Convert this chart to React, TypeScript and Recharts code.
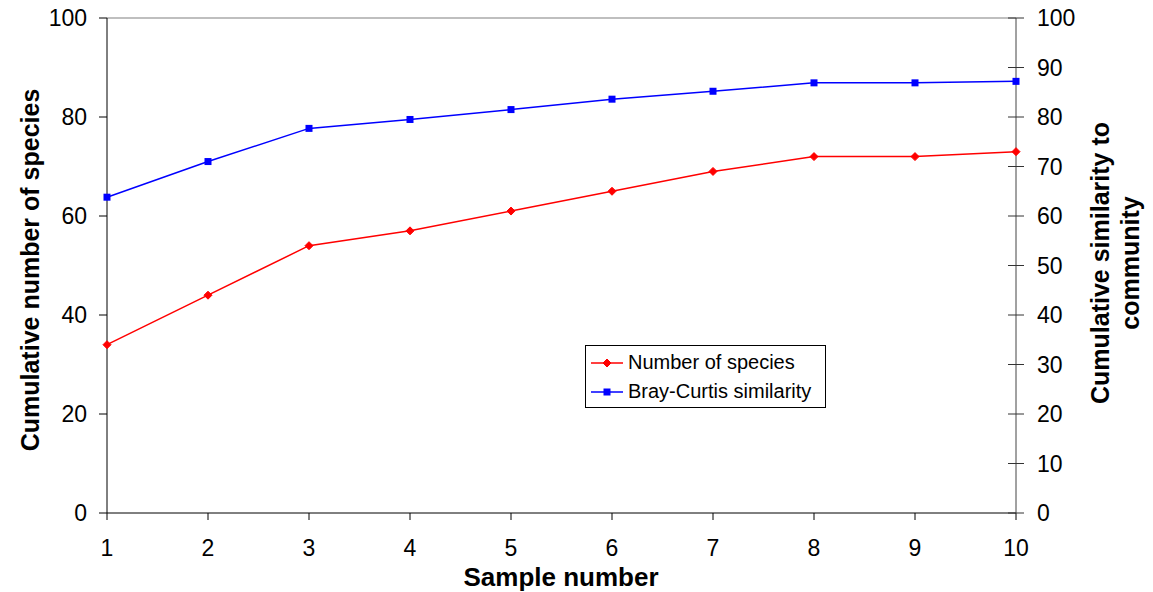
import React from 'react'
import {
  LineChart,
  Line,
  XAxis,
  YAxis,
  ReferenceLine,
} from 'recharts'

const SAMPLES = [1, 2, 3, 4, 5, 6, 7, 8, 9, 10]
const SPECIES = [34, 44, 54, 57, 61, 65, 69, 72, 72, 73]
const BRAY_CURTIS = [63.8, 71, 77.7, 79.5, 81.5, 83.6, 85.2, 86.9, 86.9, 87.2]
const LEFT_TICKS = [0, 20, 40, 60, 80, 100]
const RIGHT_TICKS = [0, 10, 20, 30, 40, 50, 60, 70, 80, 90, 100]

const SERIES = [
  { key: 'species', name: 'Number of species', color: '#FF0000', shape: 'diamond' },
  { key: 'bray', name: 'Bray-Curtis similarity', color: '#0000FF', shape: 'square' },
]

const CHART_W = 1153
const CHART_H = 592
const LEFT_W = 107
const RIGHT_W = 137
const BOTTOM_H = 79
const TOP = 18
const AXIS_RIGHT_X = CHART_W - RIGHT_W
const FONT = '"Liberation Sans", Arial, sans-serif'
const TICK_FONT = 23

const data = SAMPLES.map((s, i) => ({
  sample: s,
  species: SPECIES[i],
  bray: BRAY_CURTIS[i],
}))

function Marker({ cx, cy, shape, color }: { cx: number; cy: number; shape: string; color: string }) {
  if (shape === 'diamond') {
    const r = 4
    return (
      <path
        d={`M${cx},${cy - r}L${cx + r},${cy}L${cx},${cy + r}L${cx - r},${cy}Z`}
        fill={color}
        stroke={color}
      />
    )
  }
  return <rect x={cx - 3.5} y={cy - 3.5} width={7} height={7} fill={color} />
}

// right axis ticks cross the axis line, like the original
const RightTick = (props: any) => {
  const { y, payload } = props
  return (
    <g>
      <line x1={AXIS_RIGHT_X - 8} x2={AXIS_RIGHT_X + 8} y1={y} y2={y} stroke="#333" />
      <text
        x={AXIS_RIGHT_X + 21}
        y={y}
        dy="0.36em"
        fontSize={TICK_FONT}
        fontFamily={FONT}
        fill="#000"
      >
        {payload.value}
      </text>
    </g>
  )
}

export default function App() {
  return (
    <div
      style={{
        position: 'absolute',
        left: 0,
        top: 0,
        width: CHART_W,
        height: CHART_H,
        background: '#fff',
        fontFamily: FONT,
      }}
    >
      <LineChart
        width={CHART_W}
        height={CHART_H}
        data={data}
        margin={{ top: TOP, right: 0, bottom: 0, left: 0 }}
      >
        <XAxis
          dataKey="sample"
          type="number"
          domain={[1, 10]}
          ticks={SAMPLES}
          height={BOTTOM_H}
          stroke="#000"
          tickSize={7}
          tickMargin={20}
          tick={{ fill: '#000', fontSize: TICK_FONT, fontFamily: FONT }}
        />
        <YAxis
          yAxisId="left"
          domain={[0, 100]}
          ticks={LEFT_TICKS}
          width={LEFT_W}
          stroke="#000"
          tickSize={8}
          tickMargin={12}
          tick={{ fill: '#000', fontSize: TICK_FONT, fontFamily: FONT }}
        />
        <YAxis
          yAxisId="right"
          orientation="right"
          domain={[0, 100]}
          ticks={RIGHT_TICKS}
          width={RIGHT_W}
          stroke="#444"
          tickLine={false}
          tick={RightTick}
        />
        <ReferenceLine yAxisId="left" y={100} stroke="#aaa" strokeWidth={1.5} />
        <Line
          yAxisId="left"
          dataKey="species"
          name={SERIES[0].name}
          stroke={SERIES[0].color}
          strokeWidth={1.5}
          isAnimationActive={false}
          dot={(p: any) => (
            <Marker key={p.index} cx={p.cx} cy={p.cy} shape={SERIES[0].shape} color={SERIES[0].color} />
          )}
        />
        <Line
          yAxisId="right"
          dataKey="bray"
          name={SERIES[1].name}
          stroke={SERIES[1].color}
          strokeWidth={1.5}
          isAnimationActive={false}
          dot={(p: any) => (
            <Marker key={p.index} cx={p.cx} cy={p.cy} shape={SERIES[1].shape} color={SERIES[1].color} />
          )}
        />
      </LineChart>

      {/* axis titles */}
      <div
        style={{
          position: 'absolute',
          left: 30,
          top: 270,
          transform: 'translate(-50%, -50%) rotate(-90deg)',
          whiteSpace: 'nowrap',
          fontWeight: 'bold',
          fontSize: 25,
        }}
      >
        Cumulative number of species
      </div>
      <div
        style={{
          position: 'absolute',
          left: 1115,
          top: 263,
          transform: 'translate(-50%, -50%) rotate(-90deg)',
          whiteSpace: 'nowrap',
          fontWeight: 'bold',
          fontSize: 25,
          lineHeight: '30px',
          textAlign: 'center',
        }}
      >
        Cumulative similarity to
        <br />
        community
      </div>
      <div
        style={{
          position: 'absolute',
          left: 561,
          top: 577,
          transform: 'translate(-50%, -50%)',
          whiteSpace: 'nowrap',
          fontWeight: 'bold',
          fontSize: 26,
        }}
      >
        Sample number
      </div>

      {/* legend */}
      <div
        style={{
          position: 'absolute',
          left: 585,
          top: 345,
          width: 239,
          height: 59,
          border: '1px solid #000',
          background: '#fff',
          paddingTop: 2,
          boxSizing: 'content-box',
        }}
      >
        {SERIES.map((s) => (
          <div
            key={s.key}
            style={{ display: 'flex', alignItems: 'center', height: 29, fontSize: 20 }}
          >
            <svg width={38} height={12} style={{ marginLeft: 3 }}>
              <line x1={2} x2={34} y1={6} y2={6} stroke={s.color} strokeWidth={1.5} />
              <Marker cx={18} cy={6} shape={s.shape} color={s.color} />
            </svg>
            <span style={{ marginLeft: 1 }}>{s.name}</span>
          </div>
        ))}
      </div>
    </div>
  )
}
